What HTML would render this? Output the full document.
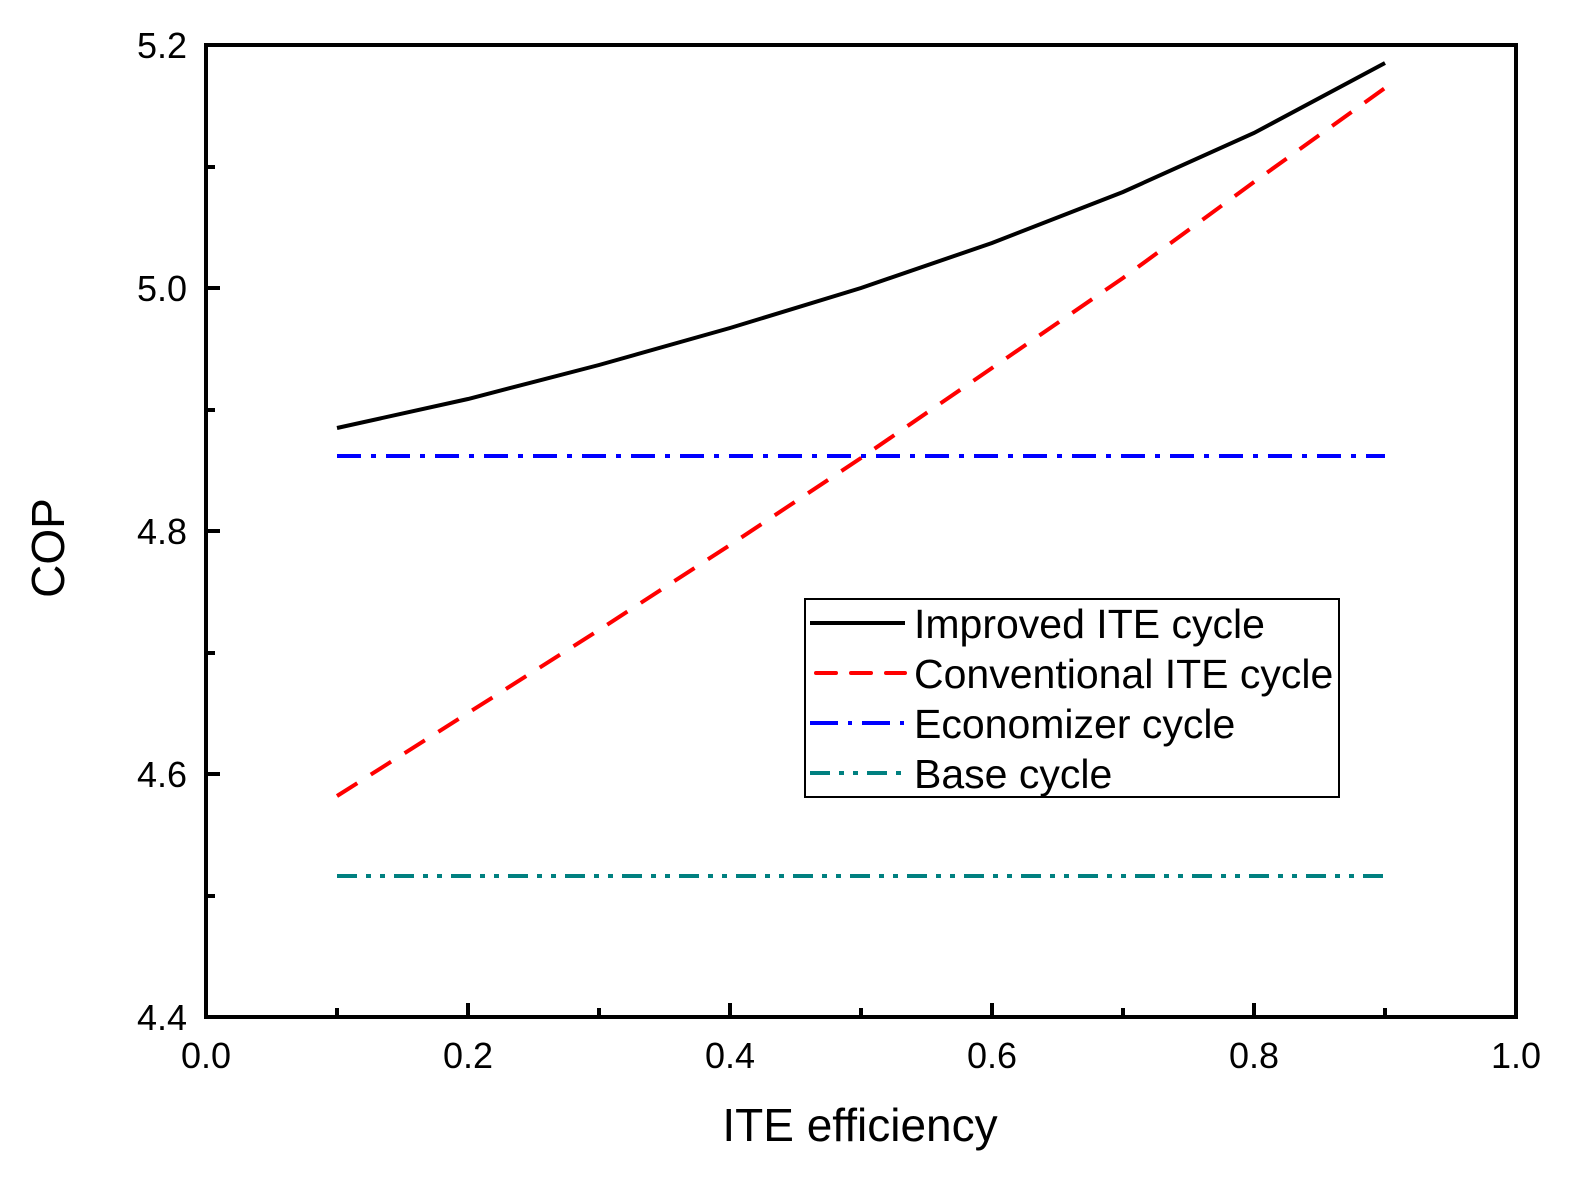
<!DOCTYPE html>
<html><head><meta charset="utf-8"><style>body{margin:0;background:#fff}svg{display:block}text{font-family:"Liberation Sans",Arial,sans-serif;fill:#000}</style></head>
<body>
<svg width="1586" height="1193" viewBox="0 0 1586 1193" xmlns="http://www.w3.org/2000/svg">
<g stroke="#000" stroke-width="4" fill="none">
<rect x="206" y="45" width="1310" height="972"/>
<path d="M337 1017v-9M468 1017v-14M599 1017v-9M730 1017v-14M861 1017v-9M992 1017v-14M1123 1017v-9M1254 1017v-14M1385 1017v-9"/>
<path d="M206 896h9M206 774h14M206 653h9M206 531h14M206 410h9M206 288h14M206 167h9"/>
</g>
<g font-size="36" text-anchor="middle">
<text x="206" y="1068">0.0</text><text x="468" y="1068">0.2</text><text x="730" y="1068">0.4</text><text x="992" y="1068">0.6</text><text x="1254" y="1068">0.8</text><text x="1516" y="1068">1.0</text>
</g>
<g font-size="36" text-anchor="end">
<text x="187" y="1030">4.4</text><text x="187" y="787">4.6</text><text x="187" y="544">4.8</text><text x="187" y="301">5.0</text><text x="187" y="58">5.2</text>
</g>
<text x="860" y="1141" font-size="46" text-anchor="middle">ITE efficiency</text>
<text transform="translate(64,548) rotate(-90)" font-size="46" text-anchor="middle">COP</text>
<polyline fill="none" stroke="#000" stroke-width="4" points="337,428 468,399 599,365 730,328 861,288 992,243 1123,192 1254,133 1385,63"/>
<polyline fill="none" stroke="#f00" stroke-width="4" stroke-dasharray="24,16" points="337,796 468,713 599,630 730,545 861,458 992,368 1123,278 1254,182 1385,88"/>
<line x1="337" y1="456" x2="1385" y2="456" stroke="#00f" stroke-width="4" stroke-dasharray="24,10,5,10"/>
<line x1="337" y1="876" x2="1385" y2="876" stroke="#008080" stroke-width="4" stroke-dasharray="20,9,5,9,5,9"/>
<rect x="805" y="599" width="534" height="198" fill="#fff" stroke="#000" stroke-width="2"/>
<line x1="810" y1="623" x2="905" y2="623" stroke="#000" stroke-width="4"/>
<line x1="816" y1="673" x2="905" y2="673" stroke="#f00" stroke-width="4" stroke-dasharray="20,15" stroke-linecap="round"/>
<line x1="810" y1="723" x2="905" y2="723" stroke="#00f" stroke-width="4" stroke-dasharray="28,10,4,10"/>
<line x1="810" y1="773" x2="905" y2="773" stroke="#008080" stroke-width="4" stroke-dasharray="20,9,5,9,5,9"/>
<g font-size="41">
<text x="914" y="638">Improved ITE cycle</text>
<text x="914" y="688">Conventional ITE cycle</text>
<text x="914" y="738">Economizer cycle</text>
<text x="914" y="788">Base cycle</text>
</g>
</svg>
</body></html>
